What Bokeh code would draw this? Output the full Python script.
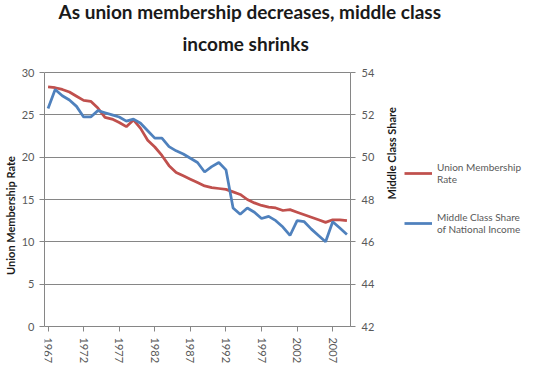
import math
from bokeh.plotting import figure
from bokeh.models import Range1d, LinearAxis, FixedTicker, Title, Legend, LegendItem
from bokeh.embed import file_html
from bokeh.resources import INLINE

# ---- data ----
years = list(range(1967, 2010))
union_rate = [28.3, 28.2, 28.0, 27.7, 27.2, 26.7, 26.6, 25.8, 24.7, 24.5,
              24.1, 23.6, 24.4, 23.4, 22.0, 21.2, 20.2, 19.0, 18.2, 17.8,
              17.4, 17.0, 16.6, 16.4, 16.3, 16.2, 15.9, 15.6, 15.0, 14.6,
              14.3, 14.1, 14.0, 13.7, 13.8, 13.5, 13.2, 12.9, 12.6, 12.3,
              12.6, 12.6, 12.5]
middle_share = [52.3, 53.2, 52.9, 52.7, 52.4, 51.9, 51.9, 52.2, 52.1, 52.0,
                51.9, 51.7, 51.8, 51.6, 51.25, 50.9, 50.9, 50.5, 50.3, 50.15,
                49.95, 49.75, 49.3, 49.55, 49.75, 49.4, 47.6, 47.3, 47.6, 47.4,
                47.1, 47.2, 47.0, 46.7, 46.3, 47.0, 46.95, 46.6, 46.3, 46.0,
                46.95, 46.65, 46.35]
x_ticks = [1967, 1972, 1977, 1982, 1987, 1992, 1997, 2002, 2007]
left_ticks = [0, 5, 10, 15, 20, 25, 30]
right_ticks = [42, 44, 46, 48, 50, 52, 54]
title_lines = ["As union membership decreases, middle class", "income shrinks"]
series_names = ["Union Membership\nRate", "Middle Class Share\nof National Income"]
left_title = "Union Membership Rate"
right_title = "Middle Class Share"

RED = "#C0504D"
BLUE = "#4F81BD"
AXIS = "#868686"
TICK_TEXT = "#595959"
FONT = "Lato"

# plot area: the year categories horizontally, 0-30 / 42-54 vertically.
# The frame is widened (right) and padded (top/bottom) so that the legend,
# the pinned right axis and the pinned bottom axis all lie inside it.
X0, X1 = years[0] - 0.5, years[-1] + 0.5
L0, L1 = left_ticks[0], left_ticks[-1]
R0, R1 = right_ticks[0], right_ticks[-1]
AREA_W, AREA_H = 306, 254
FRAME_W = 490
PAD_TOP, PAD_BOTTOM = 8, 40
x_end = X0 + (X1 - X0) * FRAME_W / AREA_W
ly = (L1 - L0) / AREA_H
ry = (R1 - R0) / AREA_H

p = figure(frame_width=FRAME_W, frame_height=AREA_H + PAD_TOP + PAD_BOTTOM,
           min_border=0,
           x_range=Range1d(X0, x_end),
           y_range=Range1d(L0 - PAD_BOTTOM * ly, L1 + PAD_TOP * ly),
           output_backend="svg", toolbar_location=None)
p.outline_line_color = None
p.background_fill_color = "white"
p.border_fill_color = "white"
p.extra_y_ranges = {"share": Range1d(R0 - PAD_BOTTOM * ry, R1 + PAD_TOP * ry)}

xa = p.below[0]
ya = p.left[0]

def style_title(t, offset, standoff):
    t.align = "left"
    t.offset = offset
    t.standoff = standoff
    t.vertical_align = "top"
    t.text_font = FONT
    t.text_font_style = "bold"
    t.text_font_size = "19px"
    t.text_color = "#1a1a1a"

# "above" stack, top to bottom: p.title, then reversed(p.above)
p.title.text = title_lines[0]
style_title(p.title, 14, -2)

spacer = LinearAxis(ticker=FixedTicker(ticks=[]), axis_line_color=None,
                    major_tick_line_color=None, minor_tick_line_color=None,
                    major_tick_in=0, major_tick_out=11, major_label_standoff=0)
p.add_layout(spacer, "above")

t2 = Title(text=title_lines[1])
style_title(t2, 138, 16)
p.add_layout(t2, "above")

# bottom axis, pinned at 0
xa.ticker = FixedTicker(ticks=x_ticks)
xa.fixed_location = L0
xa.bounds = (X0, X1)
xa.major_label_orientation = "vertical"
xa.major_label_text_font = FONT
xa.major_label_text_font_size = "11px"
xa.major_label_text_color = TICK_TEXT
xa.major_label_standoff = 6
xa.axis_line_color = AXIS
xa.major_tick_line_color = AXIS
xa.major_tick_in = 0
xa.major_tick_out = 5
xa.minor_tick_line_color = None

# left axis
ya.ticker = FixedTicker(ticks=left_ticks)
ya.bounds = (L0, L1)
ya.axis_label = left_title
ya.axis_label_text_font = FONT
ya.axis_label_text_font_style = "bold"
ya.axis_label_text_font_size = "11px"
ya.axis_label_text_color = "#1a1a1a"
ya.axis_label_standoff = 2
ya.major_label_text_font = FONT
ya.major_label_text_font_size = "11px"
ya.major_label_text_color = TICK_TEXT
ya.major_label_standoff = 5
ya.axis_line_color = AXIS
ya.major_tick_line_color = AXIS
ya.major_tick_in = 0
ya.major_tick_out = 5
ya.minor_tick_line_color = None

# right axis, pinned to the right edge of the plot area
ra = LinearAxis(y_range_name="share", ticker=FixedTicker(ticks=right_ticks),
                axis_label=right_title, fixed_location=X1, bounds=(R0, R1))
if "axis_label_orientation" in ra.properties():
    ra.axis_label_orientation = math.pi / 2
ra.axis_label_text_font = FONT
ra.axis_label_text_font_style = "bold"
ra.axis_label_text_font_size = "11px"
ra.axis_label_text_color = "#1a1a1a"
ra.axis_label_standoff = 14
ra.major_label_text_font = FONT
ra.major_label_text_font_size = "11px"
ra.major_label_text_color = TICK_TEXT
ra.major_label_standoff = 6
ra.axis_line_color = AXIS
ra.major_tick_line_color = AXIS
ra.major_tick_in = 0
ra.major_tick_out = 5
ra.minor_tick_line_color = None
p.add_layout(ra, "right")

p.xgrid.visible = False
yg = p.ygrid[0]
yg.ticker = FixedTicker(ticks=left_ticks)
yg.bounds = (L0, L1)
yg.grid_line_color = AXIS
yg.grid_line_width = 1
if "cross_bounds" in yg.properties():
    yg.cross_bounds = (X0, X1)

r1 = p.line(years, union_rate, line_color=RED, line_width=2.75)
r2 = p.line(years, middle_share, line_color=BLUE, line_width=2.75,
            y_range_name="share")

legend = Legend(items=[LegendItem(label=series_names[0], renderers=[r1]),
                       LegendItem(label=series_names[1], renderers=[r2])],
                location=(360, 91 + PAD_BOTTOM))
legend.border_line_color = None
legend.background_fill_alpha = 0
legend.padding = 0
legend.margin = 0
legend.spacing = 26
legend.glyph_width = 28
legend.glyph_height = 14
legend.label_standoff = 5
legend.label_text_font = FONT
legend.label_text_font_size = "10px"
legend.label_text_line_height = 1.4
legend.label_text_color = TICK_TEXT
p.add_layout(legend)

open("out.html", "w").write(file_html(p, INLINE))
